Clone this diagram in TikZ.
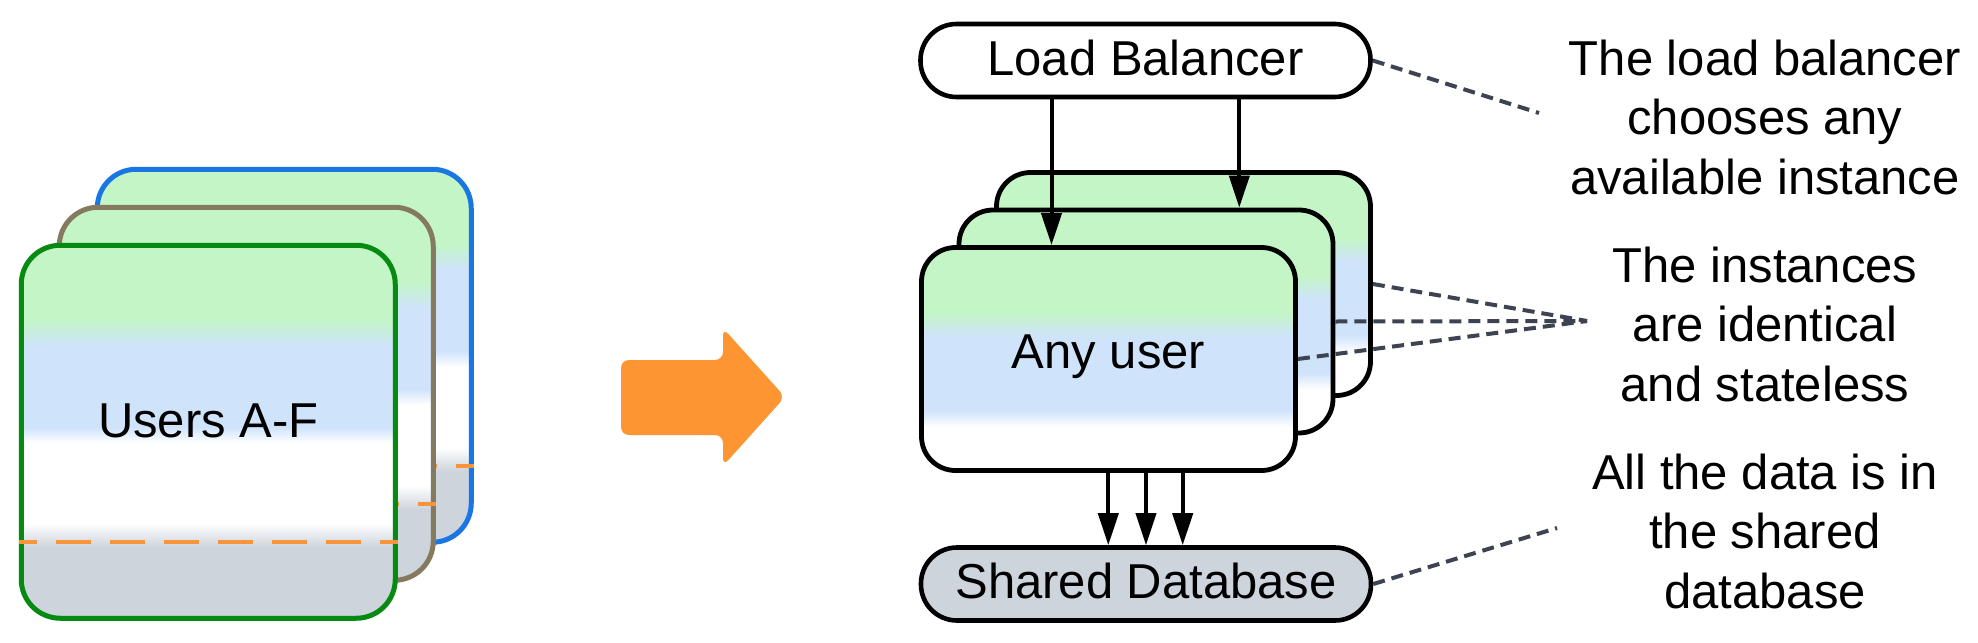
\documentclass[tikz,border=0pt]{standalone}
\usepackage{fontspec}
\setmainfont{Liberation Sans}
\usetikzlibrary{arrows.meta,calc}
\definecolor{cgreen}{HTML}{C3F5C7}
\definecolor{cblue}{HTML}{CFE3FB}
\definecolor{cgray}{HTML}{CDD4DC}
\definecolor{bblue}{HTML}{1A76E3}
\definecolor{bbrown}{HTML}{857960}
\definecolor{bgreen}{HTML}{078A12}
\definecolor{corange}{HTML}{FC9532}
\definecolor{lorange}{HTML}{F8953A}
\definecolor{dashgray}{HTML}{3D4350}
\pgfdeclareverticalshading{usershade}{100bp}{color(0bp)=(cgray); color(25bp)=(cgray); color(34.5bp)=(cgray); color(37.7bp)=(white); color(48.5bp)=(white); color(50.65bp)=(cblue); color(61.4bp)=(cblue); color(65bp)=(cgreen); color(75bp)=(cgreen); color(100bp)=(cgreen)}
\pgfdeclareverticalshading{instshade}{100bp}{color(0bp)=(white); color(25bp)=(white); color(34.75bp)=(white); color(38.55bp)=(cblue); color(54.95bp)=(cblue); color(60.3bp)=(cgreen); color(75bp)=(cgreen); color(100bp)=(cgreen)}
\tikzset{
  txt/.style={font=\fontsize{24.5pt}{29.75pt}\selectfont, inner sep=0pt},
  usercard/.style={rectangle, rounded corners=19.5pt, line width=2.5pt, minimum width=187pt, minimum height=186.5pt, inner sep=0pt, shading=usershade, font=\fontsize{24.5pt}{29.75pt}\selectfont},
  instcard/.style={rectangle, rounded corners=17pt, line width=2.4pt, draw=black, minimum width=187pt, minimum height=111.5pt, inner sep=0pt, shading=instshade, font=\fontsize{24.5pt}{29.75pt}\selectfont},
  pill/.style={rectangle, rounded corners=18pt, line width=2.3pt, draw=black, minimum width=225pt, minimum height=36.5pt, inner sep=0pt, font=\fontsize{24.5pt}{29.75pt}\selectfont, text height=17.5pt, text depth=3pt},
  cutline/.style={draw=lorange, line width=2pt, dash pattern=on 17.5pt off 9.5pt, dash phase=8.5pt},
  flow/.style={-{Triangle[length=16pt,width=10pt]}, line width=2pt},
  note/.style={draw=dashgray, line width=2pt, dash pattern=on 6pt off 3.5pt},
}
\begin{document}
\begin{tikzpicture}[x=0.5pt,y=-0.5pt]
\fill[white] (0,0) rectangle (1978,643);
\useasboundingbox (0,0) rectangle (1978,643);
% left stack of user cards
\node[usercard, draw=bblue] (u1) at (284.25,355.75) {};
\draw[cutline] ($(u1.west)+(0,110.5)$) -- ($(u1.east)+(0,110.5)$);
\node[usercard, draw=bbrown] (u2) at (246.25,393.75) {};
\draw[cutline] ($(u2.west)+(0,110.5)$) -- ($(u2.east)+(0,110.5)$);
\node[usercard, draw=bgreen, text height=17.5pt, text depth=11.5pt] (u3) at (208.25,431.75) {Users A-F};
\draw[cutline] ($(u3.west)+(0,110.5)$) -- ($(u3.east)+(0,110.5)$);
% big orange arrow
\fill[corange, rounded corners=4pt] (621,360) -- (723,360) -- (723,328) -- (785,397) -- (723,466) -- (723,435) -- (621,435) -- cycle;
% right side
\node[pill, fill=white] (LB) at (1145.5,60.5) {Load Balancer};
\node[instcard] (i1) at (1183.5,284) {};
\node[instcard] (i2) at (1146,321.5) {};
\node[instcard, text height=17.5pt, text depth=8.5pt] (i3) at (1108.5,359) {Any user};
\node[pill, fill=cgray] (DB) at (1146,584) {Shared Database};
% load balancer arrows
\coordinate (ax1) at (1051.5,0);
\coordinate (ax2) at (1239.3,0);
\draw[flow] (ax1 |- LB.south) -- (ax1 |- i3.north);
\draw[flow] (ax2 |- LB.south) -- (ax2 |- i2.north);
% database arrows
\coordinate (dx1) at (1108.3,0);
\coordinate (dx2) at (1146,0);
\coordinate (dx3) at (1182.7,0);
\draw[flow] (dx1 |- i3.south) -- (dx1 |- DB.north);
\draw[flow] (dx2 |- i3.south) -- (dx2 |- DB.north);
\draw[flow] (dx3 |- i3.south) -- (dx3 |- DB.north);
% annotation connectors
\coordinate (lbEnd) at (1539,113);
\coordinate (instEnd) at (1587,321);
\coordinate (dbEnd) at (1557,528);
\draw[note] (LB.east) -- (lbEnd);
\draw[note] (i1.east) -- (instEnd);
\draw[note] (i2.east) -- (instEnd);
\draw[note] (i3.east) -- (instEnd);
\draw[note] (DB.east) -- (dbEnd);
% annotation texts
\node[txt, anchor=base] (n1a) at (1765,75) {The load balancer};
\node[txt, anchor=base] (n1b) at (1765,134.5) {chooses any};
\node[txt, anchor=base] (n1c) at (1765,194) {available instance};
\node[txt, anchor=base] (n2a) at (1765,282) {The instances};
\node[txt, anchor=base] (n2b) at (1765,341.5) {are identical};
\node[txt, anchor=base] (n2c) at (1765,401) {and stateless};
\node[txt, anchor=base] (n3a) at (1765,489) {All the data is in};
\node[txt, anchor=base] (n3b) at (1765,548.5) {the shared};
\node[txt, anchor=base] (n3c) at (1765,608) {database};
\end{tikzpicture}
\end{document}
